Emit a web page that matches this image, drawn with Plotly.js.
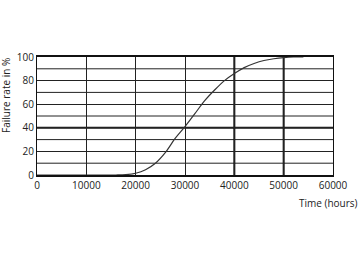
<!DOCTYPE html>
<html>
<head>
<meta charset="utf-8">
<script src="https://cdn.plot.ly/plotly-3.0.1.min.js"></script>
<style>html,body{margin:0;padding:0;background:#fff;}#chart{width:360px;height:262px;}</style>
</head>
<body>
<div id="chart"></div>
<script>
const hours = [0, 10000, 16000, 18000, 20000, 22000, 24000, 26000, 28000, 30000, 32000, 34000, 36000, 38000, 40000, 42000, 44000, 46000, 48000, 50000, 52000, 54000];
const failureRate = [0, 0, 0, 0.3, 1.5, 4.5, 10, 19, 31, 41, 52, 63, 72, 80, 86, 91, 94.5, 97, 98.5, 99.5, 100, 100];
const xTicks = [0, 10000, 20000, 30000, 40000, 50000, 60000];
const yTicks = [0, 20, 40, 60, 80, 100];
const minorY = [10, 30, 50, 70, 90];
const thickX = [40000, 50000];
const thickY = [40];

const shapes = [];
minorY.forEach(v => shapes.push({type:'line', layer:'below', xref:'paper', yref:'y', x0:0, x1:1, y0:v, y1:v, line:{color:'#222', width:1}}));
thickX.forEach(v => shapes.push({type:'line', layer:'below', xref:'x', yref:'paper', x0:v, x1:v, y0:0, y1:1, line:{color:'#111', width:2}}));
thickY.forEach(v => shapes.push({type:'line', layer:'below', xref:'paper', yref:'y', x0:0, x1:1, y0:v, y1:v, line:{color:'#111', width:2}}));

const font = {family:'Open Sans, sans-serif', size:10, color:'#222'};
Plotly.newPlot('chart', [{
  x: hours, y: failureRate, type:'scatter', mode:'lines',
  line:{color:'#333', width:1.2, shape:'spline'}, hoverinfo:'skip'
}], {
  width:360, height:262,
  margin:{l:37, r:27, t:57, b:87},
  paper_bgcolor:'#fff', plot_bgcolor:'#fff',
  showlegend:false,
  font: font,
  xaxis:{range:[0,60000], tickvals:xTicks, ticktext:xTicks.map(String), showgrid:true, gridcolor:'#222', gridwidth:1,
    zeroline:false, showline:true, linecolor:'#111', linewidth:2, mirror:true, ticks:'', tickfont:font, fixedrange:true},
  yaxis:{range:[0,100], tickvals:yTicks, ticktext:yTicks.map(String), showgrid:true, gridcolor:'#222', gridwidth:1,
    zeroline:false, showline:true, linecolor:'#111', linewidth:1, mirror:true, ticks:'', tickfont:font, fixedrange:true},
  shapes: shapes,
  annotations:[
    {text:'Failure rate in %', xref:'paper', yref:'paper', x:-0.105, y:0.678, textangle:-90, showarrow:false, font:{family:'Open Sans, sans-serif', size:10, color:'#222'}, xanchor:'center', yanchor:'middle'},
    {text:'Time (hours)', xref:'paper', yref:'paper', x:1.091, y:-0.237, showarrow:false, font:{family:'Open Sans, sans-serif', size:10, color:'#222'}, xanchor:'right', yanchor:'middle'}
  ]
}, {staticPlot:true});
</script>
</body>
</html>
